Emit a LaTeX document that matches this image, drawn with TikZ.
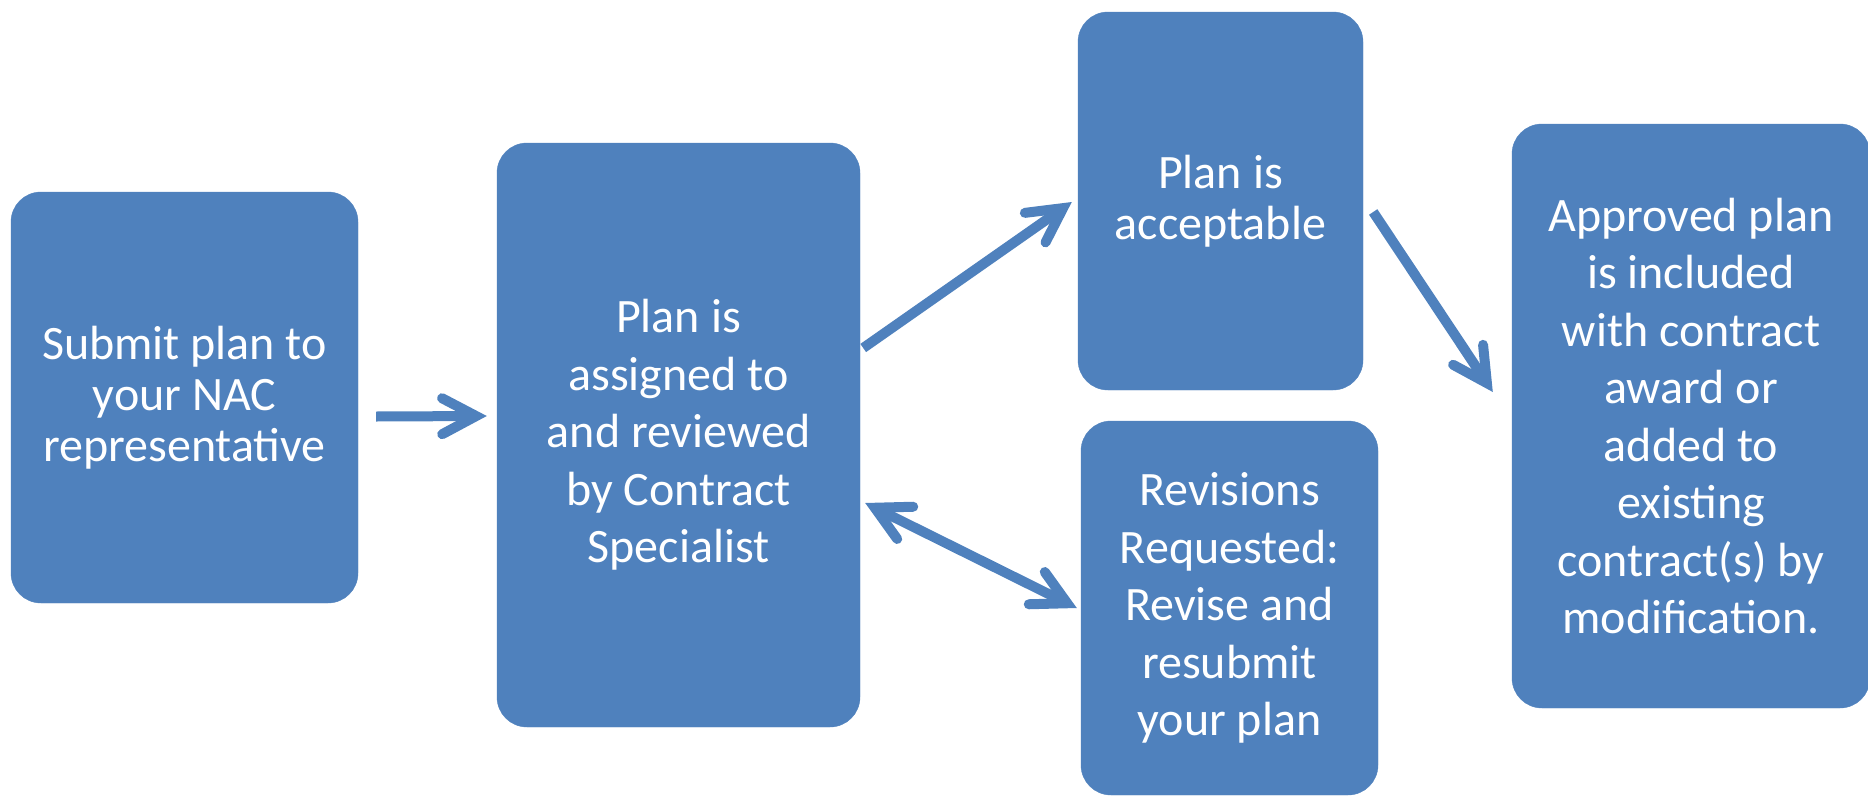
\documentclass[tikz,border=0pt]{standalone}
\usepackage{fontspec}
\setmainfont{Carlito}
\usetikzlibrary{calc,arrows.meta}
\definecolor{boxblue}{RGB}{79,129,189}
\tikzset{
  stepbox/.style={fill=boxblue, draw=boxblue, rounded corners=30pt,
    text=white, align=center, inner sep=0pt},
  wide/.style={font=\fontsize{48}{57.5}\selectfont},
  tight/.style={font=\fontsize{48}{51}\selectfont},
  barb/.tip={Straight Barb[length=34pt, width=36pt, line cap=round, line join=miter]},
  flow/.style={draw=boxblue, line width=10pt, line cap=butt, -barb},
  twoway/.style={draw=boxblue, line width=10pt, line cap=butt, barb-barb},
}
\begin{document}
\begin{tikzpicture}[x=1pt, y=-1pt]
\useasboundingbox (0,0) rectangle (1868,795);

% process steps
\node[stepbox, tight, minimum width=347pt, minimum height=411pt] (submit) at (184.5,397.5)
  {Submit plan to\\your NAC\\representative};
\node[stepbox, wide, minimum width=363pt, minimum height=584pt] (review) at (678.5,435)
  {Plan is\\assigned to\\and reviewed\\by Contract\\Specialist};
\node[stepbox, tight, minimum width=285pt, minimum height=378pt] (accept) at (1220.5,201)
  {Plan is\\acceptable};
\node[stepbox, wide, minimum width=297pt, minimum height=374pt] (revise) at (1229.5,608)
  {Revisions\\Requested:\\Revise and\\resubmit\\your plan};
\node[stepbox, wide, minimum width=358pt, minimum height=584pt] (approve) at (1691,416)
  {Approved plan\\is included\\with contract\\award or\\added to\\existing\\contract(s) by\\modification.};

% connectors
\draw[flow] ($(submit.east)+(18,19)$) -- ($(review.west)+(-10,-19)$);
\draw[flow] ($(review.east)+(3,-87)$) -- ($(accept.west)+(-6,1)$);
\draw[twoway] ($(review.east)+(5,68)$) -- ($(revise.west)+(-4,0)$);
\draw[flow] ($(accept.east)+(10,11)$) -- ($(approve.west)+(-19,-24)$);
\end{tikzpicture}
\end{document}
